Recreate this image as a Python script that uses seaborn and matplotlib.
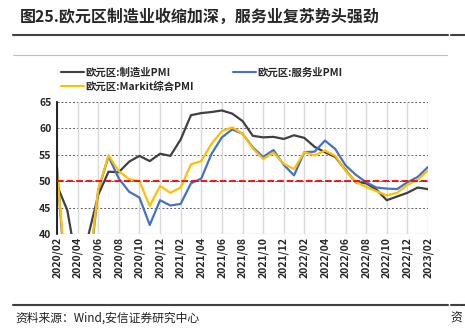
import matplotlib
matplotlib.use("Agg")
import matplotlib.pyplot as plt
import seaborn as sns
import pandas as pd
import numpy as np

months = ["2020/02","2020/03","2020/04","2020/05","2020/06","2020/07","2020/08","2020/09","2020/10","2020/11","2020/12",
          "2021/01","2021/02","2021/03","2021/04","2021/05","2021/06","2021/07","2021/08","2021/09","2021/10","2021/11","2021/12",
          "2022/01","2022/02","2022/03","2022/04","2022/05","2022/06","2022/07","2022/08","2022/09","2022/10","2022/11","2022/12",
          "2023/01","2023/02"]
manufacturing = [49.2,44.5,33.4,39.4,47.4,51.8,51.7,53.7,54.8,53.8,55.2,
                 54.8,57.9,62.5,62.9,63.1,63.4,62.8,61.4,58.6,58.3,58.4,58.0,
                 58.7,58.2,56.5,55.5,54.6,52.1,49.8,49.6,48.4,46.4,47.1,47.8,
                 48.8,48.5]
services = [52.6,26.4,12.0,30.5,48.3,54.7,50.5,48.0,46.9,41.7,46.4,
            45.4,45.7,49.6,50.5,55.2,58.3,59.8,59.0,56.4,54.6,55.9,53.1,
            51.1,55.5,55.6,57.7,56.1,53.0,51.2,49.8,48.8,48.6,48.5,49.8,
            50.8,52.7]
composite = [51.6,29.7,13.6,31.9,48.5,54.9,51.9,50.4,50.0,45.3,49.1,
             47.8,48.8,53.2,53.8,57.1,59.5,60.2,59.0,56.2,54.2,55.4,53.3,
             52.3,55.5,54.9,55.8,54.8,52.0,49.9,48.9,48.1,47.3,47.8,49.3,
             50.3,52.0]
series_names = ["欧元区:制造业PMI", "欧元区:服务业PMI", "欧元区:Markit综合PMI"]
colors = ["#404040", "#4472C4", "#FFC000"]

sns.set_theme(style="white")
plt.rcParams['font.family'] = ['Noto Sans CJK SC', 'DejaVu Sans']

idx = np.arange(len(months))
df = pd.DataFrame({"i": np.tile(idx, 3),
                   "v": manufacturing + services + composite,
                   "s": np.repeat(series_names, len(months))})

fig = plt.figure(figsize=(4.65, 3.33), dpi=100)
ax = fig.add_axes([57/465, 1-234/333, (428-57)/465, (234-102)/333])

sns.lineplot(data=df, x="i", y="v", hue="s", hue_order=series_names,
             palette=colors, ax=ax, linewidth=1.6, legend=False)
ax.axhline(50, color="#FF0000", linestyle="--", linewidth=1.3, zorder=5)

ax.set_ylim(40, 65)
ax.set_xlim(0, len(months) - 1)
ax.set_yticks([40, 45, 50, 55, 60, 65])
ax.set_xticks(idx[::2])
ax.set_xticklabels(months[::2], rotation=90, fontsize=7.5, fontweight="bold")
for t in ax.get_yticklabels():
    t.set_fontsize(7.5); t.set_fontweight("bold")
ax.set_xlabel(""); ax.set_ylabel("")
ax.tick_params(axis="both", length=0, pad=2)
ax.tick_params(axis="y", pad=4)

for y in [45, 50, 55, 60, 65]:
    ax.axhline(y, color="#606060", linestyle=(0, (2, 2)), linewidth=0.7, zorder=0)
for x in idx[::2]:
    ax.axvline(x, color="#D9D9D9", linewidth=1.0, zorder=0)
ax.axhline(40, color="#D9D9D9", linewidth=1.0, zorder=0)
for s in ["top", "right", "bottom"]:
    ax.spines[s].set_visible(False)
ax.spines["left"].set_color("black")
ax.spines["left"].set_linewidth(1.2)

from matplotlib.lines import Line2D
h = [Line2D([], [], color=c, linewidth=1.5) for c in colors]
order = [0, 2, 1]
leg = fig.legend([h[i] for i in order], [series_names[i] for i in order],
                 ncol=2, loc="upper left", bbox_to_anchor=(52/465, 1-58/333),
                 frameon=False, handlelength=2.2, handletextpad=0.1,
                 columnspacing=3.8, labelspacing=0.35,
                 prop={"family": ['Noto Sans CJK SC', 'DejaVu Sans'], "weight": "bold", "size": 7.5})

fig.text(20/465, 1-17/333, "图25.欧元区制造业收缩加深，服务业复苏势头强劲",
         fontsize=11.5, fontweight="bold", va="center", ha="left")
fig.add_artist(Line2D([13/465, 448/465], [1-35/333, 1-35/333], color="#404040", linewidth=1.5))
fig.add_artist(Line2D([451/465, 1.0], [1-35/333, 1-35/333], color="#404040", linewidth=1.5))
fig.add_artist(Line2D([13/465, 447/465], [1-55/333, 1-55/333], color="#BFBFBF", linewidth=0.8))
fig.add_artist(Line2D([13/465, 448/465], [1-305/333, 1-305/333], color="#404040", linewidth=1.5))
fig.add_artist(Line2D([451/465, 1.0], [1-305/333, 1-305/333], color="#404040", linewidth=1.5))
fig.text(15/465, 1-318/333, "资料来源：Wind,安信证券研究中心", fontsize=8.5, style="italic",
         va="center", ha="left", color="#202020")
fig.text(450/465, 1-318/333, "资", fontsize=8.5, style="italic", va="center", ha="left", color="#202020")

fig.savefig("out.png", dpi=100)
